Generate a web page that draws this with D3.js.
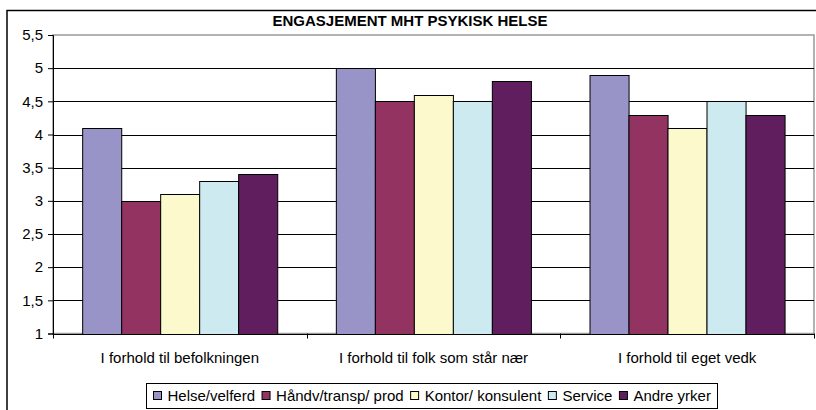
<!DOCTYPE html>
<html>
<head>
<meta charset="utf-8">
<script src="https://cdn.jsdelivr.net/npm/d3@7"></script>
<style>
  body { margin: 0; background: #fff; }
  text { font-family: "Liberation Sans", Arial, sans-serif; fill: #000; }
</style>
</head>
<body>
<div id="chart"></div>
<script>
// Chart data
const title = "ENGASJEMENT MHT PSYKISK HELSE";
const categories = ["I forhold til befolkningen", "I forhold til folk som står nær", "I forhold til eget vedk"];
const seriesNames = ["Helse/velferd", "Håndv/transp/ prod", "Kontor/ konsulent", "Service", "Andre yrker"];
const helseVelferd = [4.1, 5.0, 4.9];
const handvTransp = [3.0, 4.5, 4.3];
const kontorKonsulent = [3.1, 4.6, 4.1];
const service = [3.3, 4.5, 4.5];
const andreYrker = [3.4, 4.8, 4.3];
const yTicks = [1, 1.5, 2, 2.5, 3, 3.5, 4, 4.5, 5, 5.5];
const yTickLabels = ["1", "1,5", "2", "2,5", "3", "3,5", "4", "4,5", "5", "5,5"];

const seriesValues = [helseVelferd, handvTransp, kontorKonsulent, service, andreYrker];
const colors = d3.scaleOrdinal()
  .domain(seriesNames)
  .range(["#9894c8", "#923361", "#fcf9cd", "#cdeaf0", "#601e5f"]);

const width = 816, height = 410;
const margins = {top: 35, right: 2, bottom: 76, left: 53};

const svg = d3.select("#chart")
  .append("svg")
  .attr("width", width)
  .attr("height", height);

// outer frame (runs off the bottom/right edge like the source)
svg.append("rect")
  .attr("x", 7).attr("y", 10.5)
  .attr("width", 830).attr("height", 420)
  .attr("fill", "none")
  .attr("stroke", "#000")
  .attr("stroke-width", 1.5);

svg.append("text")
  .attr("x", 410)
  .attr("y", 26)
  .attr("text-anchor", "middle")
  .style("font-size", "15px")
  .style("font-weight", "bold")
  .text(title);

const x0 = d3.scaleBand()
  .domain(categories)
  .range([margins.left, width - margins.right])
  .paddingInner(0.23)
  .paddingOuter(0.115);

const x1 = d3.scaleBand()
  .domain(seriesNames)
  .range([0, x0.bandwidth()]);

const y = d3.scaleLinear()
  .domain([1, 5.5])
  .range([height - margins.bottom - 0.5, margins.top]);

// plot area border
svg.append("rect")
  .attr("x", margins.left)
  .attr("y", margins.top)
  .attr("width", width - margins.right - margins.left)
  .attr("height", y(1) - margins.top)
  .attr("fill", "none")
  .attr("stroke", "#999")
  .attr("stroke-width", 1.5);

// gridlines
svg.append("g")
  .selectAll("line")
  .data(yTicks.filter(d => d > 1 && d < 5.5))
  .join("line")
    .attr("x1", margins.left)
    .attr("x2", width - margins.right)
    .attr("y1", d => Math.round(y(d)) + 0.5)
    .attr("y2", d => Math.round(y(d)) + 0.5)
    .attr("stroke", "#000")
    .attr("stroke-width", 1);

// bars
const rows = categories.map((c, i) => ({
  category: c,
  values: seriesNames.map((s, j) => ({ series: s, value: seriesValues[j][i] }))
}));

svg.append("g")
  .selectAll("g")
  .data(rows)
  .join("g")
    .attr("transform", d => `translate(${x0(d.category)},0)`)
  .selectAll("rect")
  .data(d => d.values)
  .join("rect")
    .attr("x", d => Math.round(x1(d.series)) + 0.5)
    .attr("y", d => Math.round(y(d.value)) + 0.5)
    .attr("width", x1.bandwidth())
    .attr("height", d => Math.round(y(1)) - Math.round(y(d.value)))
    .attr("fill", d => colors(d.series))
    .attr("stroke", "#000")
    .attr("stroke-width", 1);

// y axis
const yAxis = d3.axisLeft(y)
  .tickValues(yTicks)
  .tickFormat((d, i) => yTickLabels[i])
  .tickSize(5)
  .tickPadding(5);

const yGroup = svg.append("g")
  .attr("transform", `translate(${margins.left},0)`)
  .call(yAxis);
yGroup.select(".domain").attr("stroke", "#000");
yGroup.selectAll("text").style("font-size", "15px").attr("font-family", null);

// x axis: ticks at category boundaries
const step = (width - margins.right - margins.left) / categories.length;
const boundaries = d3.range(categories.length + 1).map(i => margins.left + i * step);
svg.append("line")
  .attr("x1", margins.left).attr("x2", width - margins.right)
  .attr("y1", Math.round(y(1)) + 0.5).attr("y2", Math.round(y(1)) + 0.5)
  .attr("stroke", "#000");
svg.append("g")
  .selectAll("line")
  .data(boundaries)
  .join("line")
    .attr("x1", d => Math.round(d) + 0.5)
    .attr("x2", d => Math.round(d) + 0.5)
    .attr("y1", y(1))
    .attr("y2", y(1) + 5)
    .attr("stroke", "#000");

svg.append("g")
  .selectAll("text")
  .data(categories)
  .join("text")
    .attr("x", d => x0(d) + x0.bandwidth() / 2)
    .attr("y", y(1) + 29)
    .attr("text-anchor", "middle")
    .style("font-size", "15px")
    .text(d => d);

// legend
const legend = svg.append("g");
const legendItems = legend.selectAll("g")
  .data(seriesNames)
  .join("g");
legendItems.append("rect")
  .attr("width", 8).attr("height", 8)
  .attr("y", -9.5)
  .attr("fill", d => colors(d))
  .attr("stroke", "#000")
  .attr("stroke-width", 1);
legendItems.append("text")
  .attr("x", 14)
  .attr("y", 0)
  .style("font-size", "15px")
  .text(d => d);

let cx = 0;
legendItems.each(function() {
  const g = d3.select(this);
  g.attr("transform", `translate(${cx + 0.5},0)`);
  cx += 14 + g.select("text").node().getComputedTextLength() + 7;
});
const legendW = cx + 7;
const legendX = 431.5 - legendW / 2;
svg.insert("rect", () => legend.node())
  .attr("x", Math.round(legendX) + 0.5)
  .attr("y", 383.5)
  .attr("width", Math.round(legendW))
  .attr("height", 25)
  .attr("fill", "#fff")
  .attr("stroke", "#000");
legend.attr("transform", `translate(${Math.round(legendX) + 7},${401})`);
</script>
</body>
</html>
